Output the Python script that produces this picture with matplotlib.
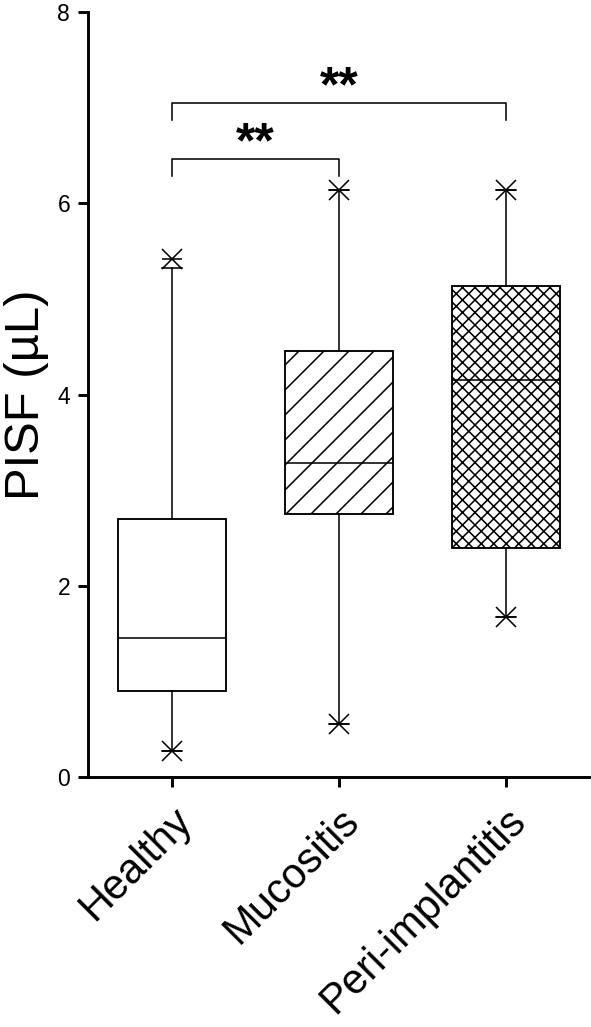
import matplotlib
matplotlib.use('Agg')
import matplotlib.pyplot as plt
from matplotlib.transforms import ScaledTranslation

plt.rcParams['font.family'] = ['Liberation Sans', 'DejaVu Sans']
plt.rcParams['hatch.linewidth'] = 0.75

# box summary values (PISF in uL)
groups = ['Healthy', 'Mucositis', 'Peri-implantitis']
whisker_lo = [0.27, 0.55, 1.67]
q1 = [0.90, 2.75, 2.39]
median = [1.45, 3.28, 4.15]
q3 = [2.70, 4.45, 5.13]
whisker_hi = [5.32, 6.14, 6.14]
min_val = [0.27, 0.55, 1.67]
max_val = [5.42, 6.14, 6.14]
hatches = ['', '//', 'xxxx']

# significance brackets: (from group, to group, height, label)
brackets = [(0, 1, 6.46, '**'), (0, 2, 7.05, '**')]

fig = plt.figure(figsize=(591 / 150, 1027 / 150), dpi=150)
ax = fig.add_axes([0.1497, 0.2434, 0.8477, 0.7449])

stats = []
for i, g in enumerate(groups):
    stats.append(dict(label=g, whislo=whisker_lo[i], q1=q1[i], med=median[i],
                      q3=q3[i], whishi=whisker_hi[i], fliers=[]))

bp = ax.bxp(stats, positions=range(len(groups)), widths=0.65, patch_artist=True,
            capwidths=0.12,
            boxprops=dict(linewidth=0.9, edgecolor='black', facecolor='white'),
            medianprops=dict(linewidth=0.75, color='black'),
            whiskerprops=dict(linewidth=0.75, color='black'),
            capprops=dict(linewidth=0.75, color='black'))
for box, h in zip(bp['boxes'], hatches):
    box.set_hatch(h)

# min / max marks drawn as an x with a bar through it
xs = list(range(len(groups)))
for vals in (min_val, max_val):
    ax.plot(xs, vals, linestyle='none', marker='x', markersize=9.5,
            markeredgewidth=0.75, color='black', zorder=5)
    ax.plot(xs, vals, linestyle='none', marker='_', markersize=9.5,
            markeredgewidth=0.75, color='black', zorder=5)

drop = 0.18
for a, b, y, lab in brackets:
    ax.plot([a, a, b, b], [y - drop, y, y, y - drop], color='black', linewidth=0.75)
    ax.text((a + b) / 2, y + 0.02, lab, ha='center', va='baseline',
            fontsize=24, fontweight='bold')

ax.set_xlim(-0.5, 2.5)
ax.set_ylim(0, 8)
ax.set_yticks([0, 2, 4, 6, 8])
ax.set_xticks(xs)
ax.set_xticklabels(groups, rotation=45, ha='right', va='top',
                   rotation_mode='anchor', fontsize=20)
shift = ScaledTranslation(11 / 150, 0, fig.dpi_scale_trans)
for lbl in ax.get_xticklabels():
    lbl.set_transform(lbl.get_transform() + shift)
ax.set_ylabel('PISF (µL)', fontsize=23.5, labelpad=4)

for side in ('top', 'right'):
    ax.spines[side].set_visible(False)
for side in ('left', 'bottom'):
    ax.spines[side].set_linewidth(1.4)
ax.tick_params(axis='both', direction='out', length=4.8, width=1.4)
ax.tick_params(axis='y', labelsize=11, pad=4)
ax.tick_params(axis='x', pad=6.5)

fig.savefig('out.png', dpi=150)
